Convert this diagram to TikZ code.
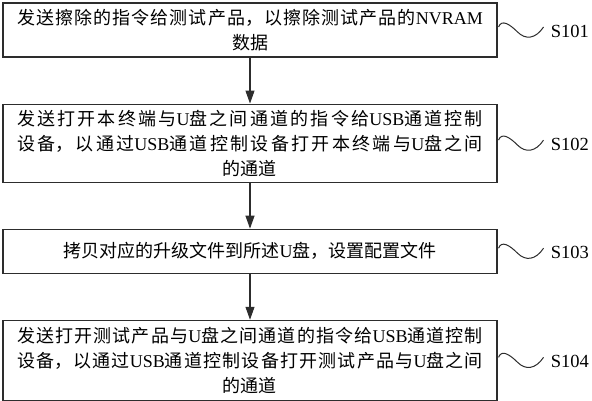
\documentclass[tikz,border=0pt]{standalone}
\usepackage{fontspec}
\setmainfont{Liberation Serif}
\newfontfamily\cjkfont{Noto Sans CJK SC}
\usepackage{tikz}
\usetikzlibrary{arrows.meta, positioning, calc}
\definecolor{flowK}{RGB}{45,45,45}
% chinese runs; stretchable glue between CJK characters
\newcommand\zh[1]{{\cjkfont #1}}
\XeTeXlinebreaklocale "zh"
\XeTeXlinebreakskip=0pt plus 3pt
% justified lines, last line centred
\newcommand\boxpar{\parindent=0pt\leftskip=0pt plus 1fil\rightskip=0pt plus -1fil\parfillskip=0pt plus 2fil\relax}
\tikzset{
  stepbox/.style={draw=flowK, line width=1.1pt, rectangle, text width=466pt,
    inner xsep=14pt, inner ysep=3pt, font=\fontsize{18pt}{25pt}\selectfont,
    execute at begin node=\boxpar},
  steplabel/.style={inner sep=0pt, font=\fontsize{18.5pt}{22pt}\selectfont},
  flowarrow/.style={draw=flowK, line width=1.1pt, -{Triangle[length=13pt, width=9pt]}},
  squiggle/.style={draw=flowK, line width=1pt,
    to path={($(\tikztostart)+(1pt,3pt)$) .. controls +(3pt,8pt) and +(-8pt,8pt)
      .. ($(\tikztostart)+(20pt,-2pt)$) .. controls +(8pt,-8pt) and +(-8pt,-12pt)
      .. ($(\tikztotarget)+(-7pt,4pt)$)}}
}
\begin{document}
\begin{tikzpicture}
\useasboundingbox (0,0) rectangle (592pt,-400pt);
% the four steps
\node[stepbox, minimum height=54pt] (s1) at (250pt,-30pt)
  {\zh{发送擦除的指令给测试产品，以擦除测试产品的}NVRAM\linebreak\zh{数据}};
\node[stepbox, minimum height=78pt, below=46pt of s1] (s2)
  {\zh{发送打开本终端与}U\zh{盘之间通道的指令给}USB\zh{通道控制}\linebreak\zh{设备，以通过}USB\zh{通道控制设备打开本终端与}U\zh{盘之间}\linebreak\zh{的通道}};
\node[stepbox, minimum height=44pt, below=46pt of s2] (s3)
  {\zh{拷贝对应的升级文件到所述}U\zh{盘，设置配置文件}};
\node[stepbox, minimum height=80pt, below=46pt of s3] (s4)
  {\zh{发送打开测试产品与}U\zh{盘之间通道的指令给}USB\zh{通道控制}\linebreak\zh{设备，以通过}USB\zh{通道控制设备打开测试产品与}U\zh{盘之间}\linebreak\zh{的通道}};
\coordinate (nxt) at (250pt,-404pt);
% arrows
\draw[flowarrow] (s1) -- (s2);
\draw[flowarrow] (s2) -- (s3);
\draw[flowarrow] (s3) -- (s4);
\draw[draw=flowK, line width=1.1pt] (s4) -- (nxt);
% step numbers
\foreach \i in {1,...,4}{
  \node[steplabel, right=53pt of s\i, yshift=-1pt] (l\i) {S10\i};
  \draw[squiggle] (s\i.east) to (l\i.west);
}
\end{tikzpicture}
\end{document}
